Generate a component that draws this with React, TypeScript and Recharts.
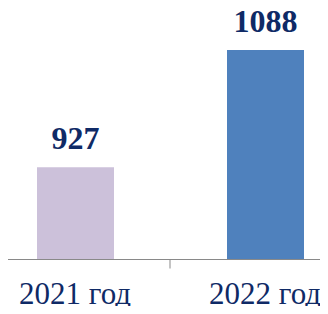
import { BarChart, Bar, XAxis, YAxis, Cell, LabelList } from "recharts";

const categories = ["2021 год", "2022 год"];
const values = [927, 1088];
const barColors = ["#CCC1DA", "#4F81BD"];

const CHART_W = 380;
const CHART_H = 314;
const TEXT = "#0F2A66";
const FONT = "'Liberation Serif', 'Times New Roman', serif";

const data = categories.map((name, i) => ({ name, value: values[i] }));

const CategoryTick = ({ x, y, payload, index }: any) => {
  const half = CHART_W / categories.length / 2;
  return (
    <g>
      <text
        x={x}
        y={y + 44}
        textAnchor="middle"
        fill={TEXT}
        style={{ fontFamily: FONT, fontSize: 31, fontWeight: "normal" }}
      >
        {payload.value}
      </text>
      {index < categories.length - 1 && (
        <line x1={x + half} y1={y} x2={x + half} y2={y + 9} stroke="#898989" strokeWidth={1} />
      )}
    </g>
  );
};

const App = () => {
  return (
    <div style={{ margin: -8, width: 328, height: 314, overflow: "hidden", background: "#fff", fontFamily: FONT }}>
      <div style={{ marginLeft: -20.5 }}>
        <BarChart
          width={CHART_W}
          height={CHART_H}
          data={data}
          margin={{ top: 41.3, right: 0, bottom: 0, left: 0 }}
        >
          <XAxis
            dataKey="name"
            height={54.5}
            stroke="#898989"
            tickLine={false}
            tickSize={0}
            tickMargin={0}
            tick={<CategoryTick />}
            interval={0}
          />
          <YAxis hide domain={[800, 1100]} />
          <Bar dataKey="value" barSize={77} isAnimationActive={false}>
            {data.map((entry, index) => (
              <Cell key={`cell-${index}`} fill={barColors[index]} />
            ))}
            <LabelList
              dataKey="value"
              position="top"
              offset={18}
              fill={TEXT}
              fontFamily={FONT}
              fontSize={32}
              fontWeight="bold"
            />
          </Bar>
        </BarChart>
      </div>
    </div>
  );
};

export default App;
